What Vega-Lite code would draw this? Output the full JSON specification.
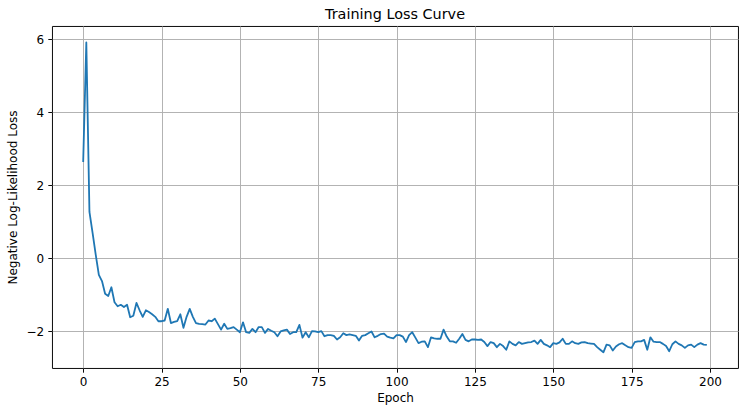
{
  "$schema": "https://vega.github.io/schema/vega-lite/v6.json",
  "autosize": "none",
  "width": 686,
  "height": 342,
  "padding": {"left": 52, "top": 26, "right": 9, "bottom": 46},
  "background": "white",
  "config": {
    "font": "DejaVu Sans",
    "view": {"stroke": "black", "strokeWidth": 0.96},
    "axis": {
      "labelFont": "DejaVu Sans",
      "titleFont": "DejaVu Sans",
      "labelFontSize": 12,
      "titleFontSize": 12,
      "titleFontWeight": "normal",
      "labelColor": "black",
      "titleColor": "black",
      "domain": false,
      "tickColor": "black",
      "tickWidth": 0.96,
      "tickSize": 4.2,
      "labelPadding": 4.2,
      "gridColor": "#b0b0b0",
      "gridWidth": 0.96,
      "gridOpacity": 1
    }
  },
  "title": {
    "text": "Training Loss Curve",
    "font": "DejaVu Sans",
    "fontSize": 14.4,
    "fontWeight": "normal",
    "color": "black",
    "offset": 4
  },
  "data": {
    "values": [
      {"epoch": 0, "loss": 2.64}, {"epoch": 1, "loss": 5.91}, {"epoch": 2, "loss": 1.27}, {"epoch": 3, "loss": 0.7}, {"epoch": 4, "loss": 0.1},
      {"epoch": 5, "loss": -0.45}, {"epoch": 6, "loss": -0.62}, {"epoch": 7, "loss": -0.97}, {"epoch": 8, "loss": -1.03}, {"epoch": 9, "loss": -0.79},
      {"epoch": 10, "loss": -1.2}, {"epoch": 11, "loss": -1.31}, {"epoch": 12, "loss": -1.27}, {"epoch": 13, "loss": -1.33}, {"epoch": 14, "loss": -1.27},
      {"epoch": 15, "loss": -1.61}, {"epoch": 16, "loss": -1.57}, {"epoch": 17, "loss": -1.22}, {"epoch": 18, "loss": -1.42}, {"epoch": 19, "loss": -1.6},
      {"epoch": 20, "loss": -1.42}, {"epoch": 21, "loss": -1.47}, {"epoch": 22, "loss": -1.53}, {"epoch": 23, "loss": -1.6}, {"epoch": 24, "loss": -1.72},
      {"epoch": 25, "loss": -1.72}, {"epoch": 26, "loss": -1.7}, {"epoch": 27, "loss": -1.38}, {"epoch": 28, "loss": -1.77}, {"epoch": 29, "loss": -1.74},
      {"epoch": 30, "loss": -1.72}, {"epoch": 31, "loss": -1.53}, {"epoch": 32, "loss": -1.9}, {"epoch": 33, "loss": -1.6}, {"epoch": 34, "loss": -1.38},
      {"epoch": 35, "loss": -1.6}, {"epoch": 36, "loss": -1.77}, {"epoch": 37, "loss": -1.79}, {"epoch": 38, "loss": -1.8}, {"epoch": 39, "loss": -1.81},
      {"epoch": 40, "loss": -1.7}, {"epoch": 41, "loss": -1.72}, {"epoch": 42, "loss": -1.65}, {"epoch": 43, "loss": -1.8}, {"epoch": 44, "loss": -1.95},
      {"epoch": 45, "loss": -1.79}, {"epoch": 46, "loss": -1.93}, {"epoch": 47, "loss": -1.91}, {"epoch": 48, "loss": -1.88}, {"epoch": 49, "loss": -1.95},
      {"epoch": 50, "loss": -2.02}, {"epoch": 51, "loss": -1.75}, {"epoch": 52, "loss": -2.02}, {"epoch": 53, "loss": -2.04}, {"epoch": 54, "loss": -1.93},
      {"epoch": 55, "loss": -2.02}, {"epoch": 56, "loss": -1.88}, {"epoch": 57, "loss": -1.88}, {"epoch": 58, "loss": -2.04}, {"epoch": 59, "loss": -1.93},
      {"epoch": 60, "loss": -1.98}, {"epoch": 61, "loss": -2.02}, {"epoch": 62, "loss": -2.13}, {"epoch": 63, "loss": -2.0}, {"epoch": 64, "loss": -1.97},
      {"epoch": 65, "loss": -1.95}, {"epoch": 66, "loss": -2.07}, {"epoch": 67, "loss": -2.02}, {"epoch": 68, "loss": -2.02}, {"epoch": 69, "loss": -1.82},
      {"epoch": 70, "loss": -2.17}, {"epoch": 71, "loss": -2.02}, {"epoch": 72, "loss": -2.16}, {"epoch": 73, "loss": -1.99}, {"epoch": 74, "loss": -2.0},
      {"epoch": 75, "loss": -2.02}, {"epoch": 76, "loss": -1.99}, {"epoch": 77, "loss": -2.13}, {"epoch": 78, "loss": -2.1}, {"epoch": 79, "loss": -2.1},
      {"epoch": 80, "loss": -2.12}, {"epoch": 81, "loss": -2.22}, {"epoch": 82, "loss": -2.16}, {"epoch": 83, "loss": -2.05}, {"epoch": 84, "loss": -2.1},
      {"epoch": 85, "loss": -2.08}, {"epoch": 86, "loss": -2.1}, {"epoch": 87, "loss": -2.12}, {"epoch": 88, "loss": -2.25}, {"epoch": 89, "loss": -2.12},
      {"epoch": 90, "loss": -2.1}, {"epoch": 91, "loss": -2.05}, {"epoch": 92, "loss": -2.0}, {"epoch": 93, "loss": -2.16}, {"epoch": 94, "loss": -2.12},
      {"epoch": 95, "loss": -2.07}, {"epoch": 96, "loss": -2.06}, {"epoch": 97, "loss": -2.14}, {"epoch": 98, "loss": -2.17}, {"epoch": 99, "loss": -2.19},
      {"epoch": 100, "loss": -2.1}, {"epoch": 101, "loss": -2.1}, {"epoch": 102, "loss": -2.14}, {"epoch": 103, "loss": -2.29}, {"epoch": 104, "loss": -2.1},
      {"epoch": 105, "loss": -2.02}, {"epoch": 106, "loss": -2.17}, {"epoch": 107, "loss": -2.32}, {"epoch": 108, "loss": -2.28}, {"epoch": 109, "loss": -2.27},
      {"epoch": 110, "loss": -2.43}, {"epoch": 111, "loss": -2.16}, {"epoch": 112, "loss": -2.19}, {"epoch": 113, "loss": -2.2}, {"epoch": 114, "loss": -2.2},
      {"epoch": 115, "loss": -1.95}, {"epoch": 116, "loss": -2.14}, {"epoch": 117, "loss": -2.27}, {"epoch": 118, "loss": -2.27}, {"epoch": 119, "loss": -2.31},
      {"epoch": 120, "loss": -2.2}, {"epoch": 121, "loss": -2.07}, {"epoch": 122, "loss": -2.23}, {"epoch": 123, "loss": -2.27}, {"epoch": 124, "loss": -2.22},
      {"epoch": 125, "loss": -2.22}, {"epoch": 126, "loss": -2.23}, {"epoch": 127, "loss": -2.22}, {"epoch": 128, "loss": -2.29}, {"epoch": 129, "loss": -2.4},
      {"epoch": 130, "loss": -2.29}, {"epoch": 131, "loss": -2.32}, {"epoch": 132, "loss": -2.43}, {"epoch": 133, "loss": -2.34}, {"epoch": 134, "loss": -2.4},
      {"epoch": 135, "loss": -2.5}, {"epoch": 136, "loss": -2.27}, {"epoch": 137, "loss": -2.34}, {"epoch": 138, "loss": -2.38}, {"epoch": 139, "loss": -2.29},
      {"epoch": 140, "loss": -2.34}, {"epoch": 141, "loss": -2.32}, {"epoch": 142, "loss": -2.3}, {"epoch": 143, "loss": -2.29}, {"epoch": 144, "loss": -2.25},
      {"epoch": 145, "loss": -2.34}, {"epoch": 146, "loss": -2.23}, {"epoch": 147, "loss": -2.34}, {"epoch": 148, "loss": -2.38}, {"epoch": 149, "loss": -2.43},
      {"epoch": 150, "loss": -2.32}, {"epoch": 151, "loss": -2.34}, {"epoch": 152, "loss": -2.3}, {"epoch": 153, "loss": -2.2}, {"epoch": 154, "loss": -2.34},
      {"epoch": 155, "loss": -2.34}, {"epoch": 156, "loss": -2.27}, {"epoch": 157, "loss": -2.32}, {"epoch": 158, "loss": -2.34}, {"epoch": 159, "loss": -2.3},
      {"epoch": 160, "loss": -2.29}, {"epoch": 161, "loss": -2.32}, {"epoch": 162, "loss": -2.33}, {"epoch": 163, "loss": -2.34}, {"epoch": 164, "loss": -2.43},
      {"epoch": 165, "loss": -2.5}, {"epoch": 166, "loss": -2.57}, {"epoch": 167, "loss": -2.36}, {"epoch": 168, "loss": -2.38}, {"epoch": 169, "loss": -2.52},
      {"epoch": 170, "loss": -2.41}, {"epoch": 171, "loss": -2.35}, {"epoch": 172, "loss": -2.32}, {"epoch": 173, "loss": -2.38}, {"epoch": 174, "loss": -2.43},
      {"epoch": 175, "loss": -2.45}, {"epoch": 176, "loss": -2.29}, {"epoch": 177, "loss": -2.27}, {"epoch": 178, "loss": -2.27}, {"epoch": 179, "loss": -2.23},
      {"epoch": 180, "loss": -2.5}, {"epoch": 181, "loss": -2.16}, {"epoch": 182, "loss": -2.28}, {"epoch": 183, "loss": -2.29}, {"epoch": 184, "loss": -2.29},
      {"epoch": 185, "loss": -2.34}, {"epoch": 186, "loss": -2.4}, {"epoch": 187, "loss": -2.54}, {"epoch": 188, "loss": -2.35}, {"epoch": 189, "loss": -2.27},
      {"epoch": 190, "loss": -2.34}, {"epoch": 191, "loss": -2.38}, {"epoch": 192, "loss": -2.45}, {"epoch": 193, "loss": -2.38}, {"epoch": 194, "loss": -2.36},
      {"epoch": 195, "loss": -2.43}, {"epoch": 196, "loss": -2.36}, {"epoch": 197, "loss": -2.32}, {"epoch": 198, "loss": -2.36}, {"epoch": 199, "loss": -2.37}
    ]
  },
  "mark": {"type": "line", "color": "#1f77b4", "strokeWidth": 1.8, "strokeJoin": "round", "strokeCap": "butt"},
  "encoding": {
    "x": {
      "field": "epoch",
      "type": "quantitative",
      "scale": {"domain": [-9.95, 208.95], "nice": false, "zero": false},
      "axis": {"values": [0, 25, 50, 75, 100, 125, 150, 175, 200], "title": "Epoch", "titlePadding": 5}
    },
    "y": {
      "field": "loss",
      "type": "quantitative",
      "scale": {"domain": [-3.0, 6.36], "nice": false, "zero": false},
      "axis": {"values": [-2, 0, 2, 4, 6], "title": "Negative Log-Likelihood Loss", "titlePadding": 6}
    }
  }
}
